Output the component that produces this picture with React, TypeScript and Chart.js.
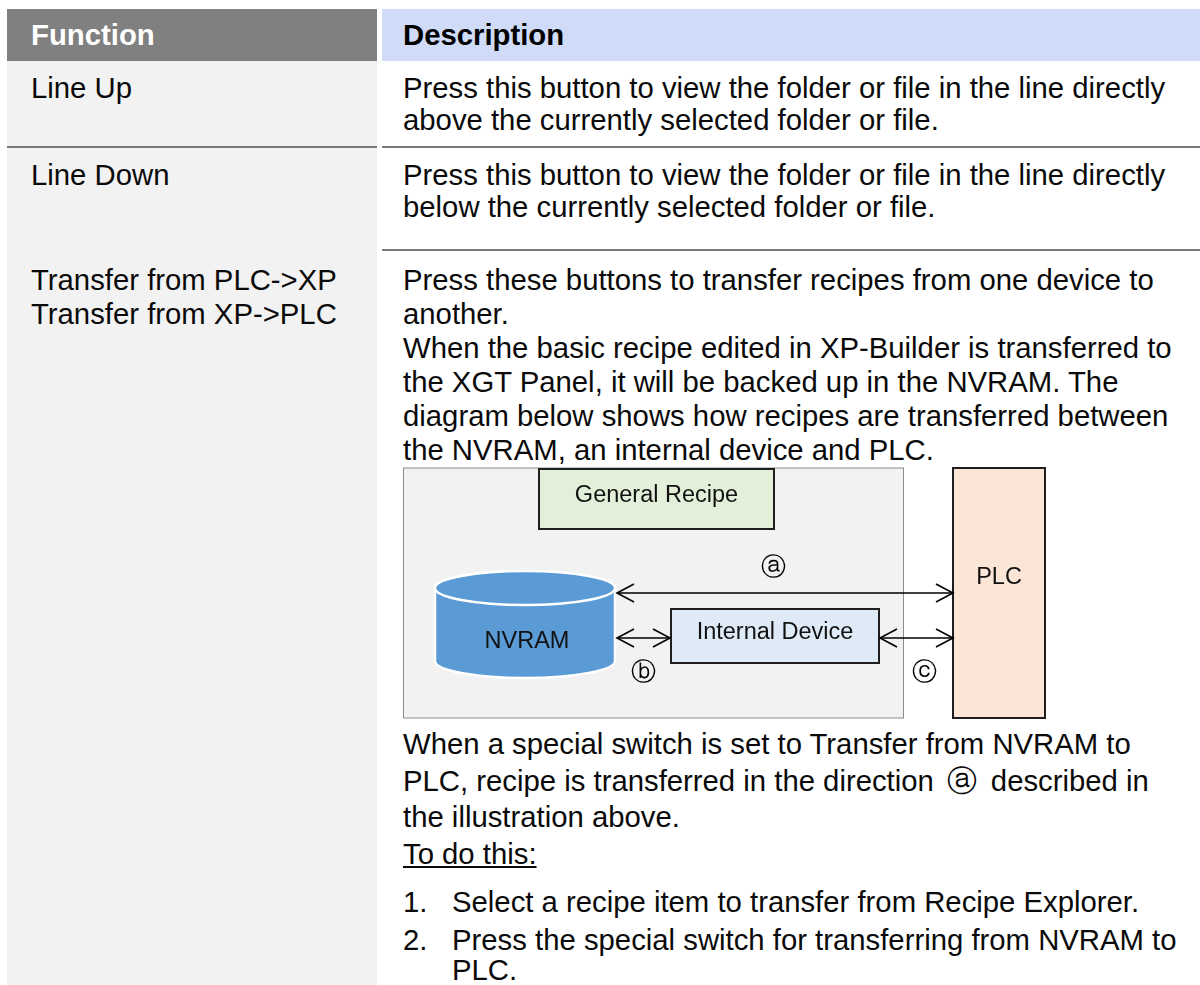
import React, { useEffect, useRef } from "react";
import { Chart, registerables } from "chart.js";

Chart.register(...registerables);

const FONT = '"Liberation Sans", Arial, Helvetica, sans-serif';

// ---------- Table content ----------
const headerTitles = ["Function", "Description"];
const row1Function = ["Line Up"];
const row1Desc = [
  "Press this button to view the folder or file in the line directly",
  "above the currently selected folder or file.",
];
const row2Function = ["Line Down"];
const row2Desc = [
  "Press this button to view the folder or file in the line directly",
  "below the currently selected folder or file.",
];
const row3Function = ["Transfer from PLC->XP", "Transfer from XP->PLC"];
const row3DescTop = [
  "Press these buttons to transfer recipes from one device to",
  "another.",
  "When the basic recipe edited in XP-Builder is transferred to",
  "the XGT Panel, it will be backed up in the NVRAM. The",
  "diagram below shows how recipes are transferred between",
  "the NVRAM, an internal device and PLC.",
];
const row3DescBottom1 = "When a special switch is set to Transfer from NVRAM to";
const row3DescBottom2a = "PLC, recipe is transferred in the direction";
const row3DescBottom2Mark = "\u24d0";
const row3DescBottom2b = "described in";
const row3DescBottom3 = "the illustration above.";
const stepsTitle = "To do this:";
const stepNumbers = ["1.", "2."];
const stepLines = [
  ["Select a recipe item to transfer from Recipe Explorer."],
  ["Press the special switch for transferring from NVRAM to", "PLC."],
];

// ---------- Diagram data (diagram units) ----------
const boxNames = ["General Recipe", "Internal Device", "PLC"];
const boxX0 = [136, 268, 550];
const boxX1 = [371, 476, 642];
const boxY0 = [2, 142, 1];
const boxY1 = [62, 196, 251];
const boxLabelY = [28.5, 166, 110.5];
const boxFills = ["#e2efd9", "#deebf7", "#fbe5d6"];

const storeName = "NVRAM";
const storeX = [32, 212];
const storeY = [121, 194];
const storeLabelY = 175;

const groupX = [0.5, 500.5];
const groupY = [1, 251];

const arrowIds = ["\u24d0", "\u24d1", "\u24d2"];
const arrowFrom = [214, 214, 477];
const arrowTo = [550, 267, 550];
const arrowY = [126, 171, 171];
const arrowLabelX = [370, 240, 521];
const arrowLabelY = [101, 206, 206];

const DIAG_W = 648;
const DIAG_H = 254;

const diagramPlugin = {
  id: "diagramShapes",
  beforeDatasetsDraw(chart: any) {
    const { ctx } = chart;
    const sx = chart.scales.x;
    const sy = chart.scales.y;
    const px = (v: number) => sx.getPixelForValue(v);
    const py = (v: number) => sy.getPixelForValue(v);
    ctx.save();

    // group container
    ctx.fillStyle = "#f2f2f2";
    ctx.strokeStyle = "#8c8c8c";
    ctx.lineWidth = 1;
    ctx.fillRect(px(groupX[0]), py(groupY[0]), px(groupX[1]) - px(groupX[0]), py(groupY[1]) - py(groupY[0]));
    ctx.strokeRect(px(groupX[0]), py(groupY[0]), px(groupX[1]) - px(groupX[0]), py(groupY[1]) - py(groupY[0]));

    // boxes
    boxNames.forEach((name, i) => {
      const x0 = px(boxX0[i]);
      const x1 = px(boxX1[i]);
      const y0 = py(boxY0[i]);
      const y1 = py(boxY1[i]);
      ctx.fillStyle = boxFills[i];
      ctx.fillRect(x0, y0, x1 - x0, y1 - y0);
      ctx.strokeStyle = "#1e1e1e";
      ctx.lineWidth = 2;
      ctx.strokeRect(x0, y0, x1 - x0, y1 - y0);
      ctx.fillStyle = "#111";
      ctx.font = `23.5px ${FONT}`;
      ctx.textAlign = "center";
      ctx.textBaseline = "middle";
      ctx.fillText(name, (x0 + x1) / 2, py(boxLabelY[i]));
    });

    // cylinder
    const cx = (px(storeX[0]) + px(storeX[1])) / 2;
    const rx = (px(storeX[1]) - px(storeX[0])) / 2;
    const ry = 17;
    const yt = py(storeY[0]);
    const yb = py(storeY[1]);
    ctx.fillStyle = "#5b9bd5";
    ctx.strokeStyle = "#ffffff";
    ctx.lineWidth = 2.5;
    ctx.beginPath();
    ctx.moveTo(cx - rx, yt);
    ctx.lineTo(cx - rx, yb);
    ctx.ellipse(cx, yb, rx, ry, 0, Math.PI, 0, true);
    ctx.lineTo(cx + rx, yt);
    ctx.ellipse(cx, yt, rx, ry, 0, 0, Math.PI, true);
    ctx.closePath();
    ctx.fill();
    ctx.stroke();
    ctx.beginPath();
    ctx.ellipse(cx, yt, rx, ry, 0, 0, Math.PI * 2);
    ctx.fill();
    ctx.stroke();
    ctx.fillStyle = "#111";
    ctx.font = `23.5px ${FONT}`;
    ctx.textAlign = "center";
    ctx.textBaseline = "middle";
    ctx.fillText(storeName, cx + 2, py(storeLabelY));
    ctx.restore();
  },
  afterDatasetsDraw(chart: any) {
    const { ctx } = chart;
    const sx = chart.scales.x;
    const sy = chart.scales.y;
    const px = (v: number) => sx.getPixelForValue(v);
    const py = (v: number) => sy.getPixelForValue(v);
    ctx.save();
    ctx.strokeStyle = "#000";
    ctx.lineWidth = 1.6;
    const head = (x: number, y: number, dir: number) => {
      ctx.beginPath();
      ctx.moveTo(x + dir * 17, y - 9);
      ctx.lineTo(x, y);
      ctx.lineTo(x + dir * 17, y + 9);
      ctx.stroke();
    };
    arrowIds.forEach((id, i) => {
      const y = py(arrowY[i]);
      head(px(arrowFrom[i]), y, 1);
      head(px(arrowTo[i]), y, -1);
      ctx.fillStyle = "#000";
      ctx.font = `25px "DejaVu Sans", sans-serif`;
      ctx.textAlign = "center";
      ctx.textBaseline = "middle";
      ctx.fillText(id, px(arrowLabelX[i]), py(arrowLabelY[i]));
    });
    ctx.restore();
  },
};

function Diagram() {
  const ref = useRef<HTMLCanvasElement | null>(null);
  useEffect(() => {
    if (!ref.current) return;
    const chart = new Chart(ref.current, {
      type: "scatter",
      data: {
        datasets: arrowIds.map((id, i) => ({
          label: id,
          data: [
            { x: arrowFrom[i], y: arrowY[i] },
            { x: arrowTo[i], y: arrowY[i] },
          ],
          showLine: true,
          borderColor: "#000",
          borderWidth: 1.6,
          pointRadius: 0,
          fill: false,
        })),
      },
      options: {
        animation: false,
        responsive: false,
        events: [],
        layout: { padding: 0 },
        plugins: { legend: { display: false }, tooltip: { enabled: false } },
        scales: {
          x: { type: "linear", min: 0, max: DIAG_W, display: false },
          y: { type: "linear", min: 0, max: DIAG_H, reverse: true, display: false },
        },
      },
      plugins: [diagramPlugin],
    } as any);
    return () => chart.destroy();
  }, []);
  return (
    <canvas
      ref={ref}
      width={DIAG_W}
      height={DIAG_H}
      style={{ position: "absolute", left: 403, top: 467, width: DIAG_W, height: DIAG_H }}
    />
  );
}

function Line({ x, cy, children, style, tight }: { x: number; cy: number; children: any; style?: any; tight?: boolean }) {
  const lh = tight ? 24 : 33;
  const off = tight ? 11.7 : 16;
  return (
    <div
      style={{
        position: "absolute",
        left: x,
        top: cy - off,
        lineHeight: `${lh}px`,
        height: lh,
        whiteSpace: "nowrap",
        ...style,
      }}
    >
      {children}
    </div>
  );
}

export default function App() {
  const L = 31;
  const R = 403;
  return (
    <div
      style={{
        position: "absolute",
        left: 0,
        top: 0,
        width: 1200,
        height: 985,
        overflow: "hidden",
        background: "#ffffff",
        fontFamily: FONT,
        fontSize: 29.3,
        color: "#0a0a0a",
      }}
    >
      {/* column backgrounds */}
      <div style={{ position: "absolute", left: 7, top: 61, width: 370, height: 924, background: "#f2f2f2" }} />
      <div style={{ position: "absolute", left: 7, top: 9, width: 370, height: 52, background: "#808080" }} />
      <div style={{ position: "absolute", left: 382, top: 9, width: 818, height: 52, background: "#cfdbf7" }} />
      {/* separators */}
      <div style={{ position: "absolute", left: 7, top: 146, width: 370, height: 1.5, background: "#7a7a7a" }} />
      <div style={{ position: "absolute", left: 382, top: 146, width: 818, height: 1.5, background: "#7a7a7a" }} />
      <div style={{ position: "absolute", left: 382, top: 249, width: 818, height: 1.5, background: "#7a7a7a" }} />

      {/* header */}
      <Line x={L} cy={34} style={{ fontWeight: "bold", color: "#ffffff" }}>{headerTitles[0]}</Line>
      <Line x={R} cy={34} style={{ fontWeight: "bold", color: "#000" }}>{headerTitles[1]}</Line>

      {/* row 1 */}
      {row1Function.map((t, i) => <Line key={"f1" + i} x={L} cy={86.5 + i * 32}>{t}</Line>)}
      {row1Desc.map((t, i) => <Line key={"d1" + i} x={R} cy={86.5 + i * 32}>{t}</Line>)}

      {/* row 2 */}
      {row2Function.map((t, i) => <Line key={"f2" + i} x={L} cy={173.5 + i * 32}>{t}</Line>)}
      {row2Desc.map((t, i) => <Line key={"d2" + i} x={R} cy={173.5 + i * 32}>{t}</Line>)}

      {/* row 3 */}
      {row3Function.map((t, i) => <Line key={"f3" + i} x={L} cy={278.5 + i * 34}>{t}</Line>)}
      {row3DescTop.map((t, i) => <Line key={"d3" + i} x={R} cy={278.5 + i * 34}>{t}</Line>)}

      <Diagram />

      <Line x={R} cy={742.5}>{row3DescBottom1}</Line>
      <Line x={R} cy={779.5}>
        {row3DescBottom2a}
        <span
          style={{
            display: "inline-block",
            fontFamily: '"DejaVu Sans", sans-serif',
            fontSize: 30,
            margin: "0 14px 0 13px",
          }}
        >
          {row3DescBottom2Mark}
        </span>
        {row3DescBottom2b}
      </Line>
      <Line x={R} cy={816}>{row3DescBottom3}</Line>
      <Line x={R} cy={852.5} style={{ textDecoration: "underline" }}>{stepsTitle}</Line>
      <Line x={R} cy={900.5}>{stepNumbers[0]}</Line>
      <Line x={452} cy={900.5}>{stepLines[0][0]}</Line>
      <Line x={R} cy={938.5}>{stepNumbers[1]}</Line>
      <Line x={452} cy={938.5}>{stepLines[1][0]}</Line>
      <Line x={452} cy={969.5} tight>{stepLines[1][1]}</Line>
    </div>
  );
}
